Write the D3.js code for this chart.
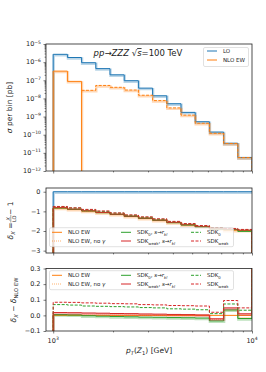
<!DOCTYPE html>
<html>
<head>
<meta charset="utf-8">
<script src="https://cdn.jsdelivr.net/npm/d3@7"></script>
<style>
body { margin: 0; background: #fff; }
svg { font-family: "DejaVu Sans", sans-serif; }
</style>
</head>
<body>
<svg id="chart" width="266" height="372"></svg>
<script>

// bin edges in pT(Z1) [GeV] (log spaced bins)
var binEdges = [1000, 1179, 1389, 1638, 1931, 2276, 2683, 3162, 3728, 4394, 5179, 6105, 7197, 8483, 10000];

// top panel: sigma per bin [pb]
var sigmaLO = [2.7e-6, 1.8e-6, 9.3e-7, 4.4e-7, 2.0e-7, 9.5e-8, 3.7e-8, 1.4e-8, 5.1e-9, 1.7e-9, 5.2e-10, 1.4e-10, 3.4e-11, 5.6e-12];
// NLO EW, positive bins (solid) and |negative| bins (dashed)
var sigmaNLOpos = [3.2e-7, 8.7e-8, null, null, null, null, null, null, null, null, null, null, null, null];
var sigmaNLOneg = [null, null, 2.8e-8, 5.2e-8, 4.1e-8, 2.9e-8, 1.5e-8, 7.6e-9, 3.0e-9, 1.2e-9, 4.3e-10, 1.2e-10, 3.3e-11, 5.5e-12];

// middle panel: delta_X = X/LO - 1
var deltaLO       = [0, 0, 0, 0, 0, 0, 0, 0, 0, 0, 0, 0, 0, 0];
var deltaNLO      = [-0.83, -0.90, -0.98, -1.06, -1.15, -1.25, -1.35, -1.45, -1.57, -1.68, -1.78, -1.87, -1.96, -1.97];
var deltaNoGamma  = [-0.83, -0.90, -0.98, -1.06, -1.15, -1.25, -1.35, -1.45, -1.57, -1.68, -1.78, -1.90, -1.93, -1.99];
var deltaSDK0r    = [-0.83, -0.90, -0.98, -1.07, -1.16, -1.26, -1.36, -1.46, -1.58, -1.70, -1.80, -1.91, -1.93, -2.02];
var deltaSDKwr    = [-0.81, -0.88, -0.97, -1.05, -1.14, -1.24, -1.34, -1.44, -1.56, -1.68, -1.78, -1.89, -1.91, -1.96];
var deltaSDK0     = [-0.76, -0.83, -0.92, -1.00, -1.09, -1.20, -1.30, -1.40, -1.53, -1.64, -1.74, -1.86, -1.89, -1.94];
var deltaSDKw     = [-0.75, -0.82, -0.90, -0.98, -1.08, -1.18, -1.28, -1.38, -1.51, -1.62, -1.72, -1.85, -1.87, -1.92];

// bottom panel: delta_X - delta_NLO EW
var diffNLO       = [0, 0, 0, 0, 0, 0, 0, 0, 0, 0, 0, 0, 0, 0];
var diffNoGamma   = [0.003, 0.003, 0.002, 0.002, 0.001, 0.001, 0.0, 0.0, -0.001, -0.002, -0.003, -0.025, 0.030, -0.015];
var diffSDK0r     = [0.005, 0.003, -0.002, -0.005, -0.007, -0.009, -0.011, -0.012, -0.014, -0.015, -0.017, -0.035, 0.035, -0.020];
var diffSDKwr     = [0.018, 0.017, 0.015, 0.014, 0.012, 0.011, 0.009, 0.008, 0.006, 0.005, 0.003, -0.022, 0.048, 0.010];
var diffSDK0      = [0.069, 0.066, 0.060, 0.058, 0.056, 0.054, 0.050, 0.048, 0.042, 0.040, 0.036, 0.011, 0.073, 0.033];
var diffSDKw      = [0.084, 0.083, 0.080, 0.078, 0.075, 0.074, 0.069, 0.067, 0.063, 0.062, 0.060, 0.020, 0.095, 0.048];

var yTicksTop = [1e-12, 1e-11, 1e-10, 1e-9, 1e-8, 1e-7, 1e-6, 1e-5];
var yTicksMid = [0, -1, -2, -3];
var yTicksBot = [0.3, 0.2, 0.1, 0.0, -0.1];
var xTicksMajor = [1000, 10000];
var xTicksMinor = [2000, 3000, 4000, 5000, 6000, 7000, 8000, 9000];

var C = {blue: "#1f77b4", orange: "#ff7f0e", green: "#2ca02c", red: "#d62728"};

var svg = d3.select("#chart");

var x = d3.scaleLog().domain([920, 10000]).range([46, 252]);
var yTop = d3.scaleLog().domain([1e-12, 1e-5]).range([171, 44]);
var yMid = d3.scaleLinear().domain([-3.12, 0.19]).range([253, 188]);
var yBot = d3.scaleLinear().domain([-0.1, 0.3]).range([331, 268.5]);

// build step points for a binned series; lead/trail give the y of the closing verticals
function stepPoints(vals, lead, trail) {
    var idx = [];
    vals.forEach(function(v, i) { if (v != null) idx.push(i); });
    var pts = [];
    if (lead != null) pts.push([binEdges[idx[0]], lead]);
    idx.forEach(function(i) {
        pts.push([binEdges[i], vals[i]]);
        pts.push([binEdges[i + 1], vals[i]]);
    });
    if (trail != null) pts.push([binEdges[idx[idx.length - 1] + 1], trail]);
    return pts;
}

// rich text helper: parts {t, sub, sup, it}
function rich(sel, parts, size) {
    var shift = 0;
    parts.forEach(function(p) {
        var target = 0;
        if (p.sub) target = size * 0.28;
        if (p.sup) target = -size * 0.42;
        var ts = sel.append("tspan").text(p.t)
            .attr("dy", target - shift)
            .attr("font-size", (p.sub || p.sup) ? size * 0.7 : size);
        if (p.it) ts.attr("font-style", "italic");
        if (p.over) ts.attr("text-decoration", "overline");
        shift = target;
    });
    return sel;
}

function panel(id, yScale, top, bottom) {
    svg.append("clipPath").attr("id", id)
        .append("rect").attr("x", 46).attr("y", top).attr("width", 206).attr("height", bottom - top);
    var g = svg.append("g");
    var plot = g.append("g").attr("clip-path", "url(#" + id + ")");
    return {g: g, plot: plot};
}

function drawStep(plot, yScale, pts, color, opts) {
    opts = opts || {};
    var line = d3.line().x(function(d) { return x(d[0]); }).y(function(d) { return yScale(d[1]); });
    if (opts.band) {
        plot.append("path").attr("d", line(pts))
            .attr("fill", "none").attr("stroke", color).attr("stroke-width", 2.4)
            .attr("stroke-opacity", 0.3)
            .attr("transform", "translate(0.5,1)");
    }
    plot.append("path").attr("d", line(pts))
        .attr("fill", "none").attr("stroke", color)
        .attr("stroke-width", opts.width || 1)
        .attr("stroke-dasharray", opts.dash || null)
        .attr("stroke-opacity", opts.opacity || 1);
}

function frameAndTicks(g, yScale, top, bottom, yMajor, yMinor) {
    var ya = g.append("g").attr("transform", "translate(46,0)")
        .call(d3.axisLeft(yScale).tickValues(yMajor).tickSize(2.5).tickFormat(""));
    if (yMinor) {
        g.append("g").attr("transform", "translate(46,0)")
            .call(d3.axisLeft(yScale).tickValues(yMinor).tickSize(1.4).tickFormat(""));
    }
    g.append("g").attr("transform", "translate(0," + bottom + ")")
        .call(d3.axisBottom(x).tickValues(xTicksMajor).tickSize(2.5).tickFormat(""));
    g.append("g").attr("transform", "translate(0," + bottom + ")")
        .call(d3.axisBottom(x).tickValues(xTicksMinor).tickSize(1.4).tickFormat(""));
    g.selectAll(".domain").remove();
    g.selectAll(".tick line").attr("stroke", "#222").attr("stroke-width", 0.6);
    g.append("rect").attr("x", 46).attr("y", top).attr("width", 206).attr("height", bottom - top)
        .attr("fill", "none").attr("stroke", "#222").attr("stroke-width", 0.8);
}

function legendBox(x0, y0, w, h) {
    svg.append("rect").attr("x", x0).attr("y", y0).attr("width", w).attr("height", h)
        .attr("rx", 1.5).attr("fill", "#fff").attr("fill-opacity", 0.8)
        .attr("stroke", "#ccc").attr("stroke-width", 0.6);
}

function legendEntry(lx, ly, color, dash, parts, opacity) {
    svg.append("line").attr("x1", lx).attr("x2", lx + 10).attr("y1", ly).attr("y2", ly)
        .attr("stroke", color).attr("stroke-width", 1)
        .attr("stroke-dasharray", dash || null)
        .attr("stroke-opacity", opacity || 1);
    var t = svg.append("text").attr("x", lx + 16).attr("y", ly + 2).attr("fill", "#222");
    rich(t, parts, 5.5);
}

// ---------------- top panel ----------------
var p1 = panel("clipTop", yTop, 44, 171);
drawStep(p1.plot, yTop, stepPoints(sigmaLO, 1e-13, 1e-13), C.blue, {band: true});
drawStep(p1.plot, yTop, stepPoints(sigmaNLOpos, 1e-13, 1e-13), C.orange, {band: true});
drawStep(p1.plot, yTop, stepPoints(sigmaNLOneg, null, 1e-13), C.orange, {band: true, dash: "3,1.4"});

var minorTop = [];
yTicksTop.slice(0, -1).forEach(function(d) {
    for (var k = 2; k <= 9; k++) minorTop.push(d * k);
});
frameAndTicks(p1.g, yTop, 44, 171, yTicksTop, minorTop);

yTicksTop.forEach(function(d) {
    var t = svg.append("text").attr("x", 41).attr("y", yTop(d) + 2.3)
        .attr("text-anchor", "end").attr("fill", "#222");
    rich(t, [{t: "10"}, {t: "\u2212" + Math.round(-Math.log10(d)), sup: true}], 6.5);
});

// title
var title = svg.append("text").attr("x", 138).attr("y", 56).attr("text-anchor", "middle").attr("fill", "#222");
rich(title, [{t: "pp", it: true}, {t: "\u2192"}, {t: "ZZZ", it: true}, {t: "  \u221A"}, {t: "s", it: true, over: true}, {t: "=100 TeV"}], 8.5);

legendBox(203.5, 47.5, 45, 19);
legendEntry(207, 51, C.blue, null, [{t: "LO"}]);
legendEntry(207, 60, C.orange, null, [{t: "NLO EW"}]);

// ---------------- middle panel ----------------
var p2 = panel("clipMid", yMid, 188, 253);
drawStep(p2.plot, yMid, stepPoints(deltaLO, -4, null), C.blue, {band: true});
drawStep(p2.plot, yMid, stepPoints(deltaNLO, -4, -4), C.orange, {band: true});
drawStep(p2.plot, yMid, stepPoints(deltaNoGamma, -4, -4), C.orange, {dash: "1,1", opacity: 0.6});
drawStep(p2.plot, yMid, stepPoints(deltaSDK0r, -4, -4), C.green);
drawStep(p2.plot, yMid, stepPoints(deltaSDKwr, -4, -4), C.red);
drawStep(p2.plot, yMid, stepPoints(deltaSDK0, -4, -4), C.green, {dash: "3,1.5"});
drawStep(p2.plot, yMid, stepPoints(deltaSDKw, -4, -4), C.red, {dash: "3,1.5"});
frameAndTicks(p2.g, yMid, 188, 253, yTicksMid, null);

yTicksMid.forEach(function(d) {
    svg.append("text").attr("x", 40.5).attr("y", yMid(d) + 2.3)
        .attr("text-anchor", "end").attr("font-size", 6.5).attr("fill", "#222")
        .text(d === 0 ? "0" : "\u2212" + (-d));
});

function legendSix(y0) {
    legendBox(49.5, y0, 184, 19);
    var r1 = y0 + 4.6, r2 = y0 + 13.3;
    legendEntry(52, r1, C.orange, null, [{t: "NLO EW"}]);
    legendEntry(52, r2, C.orange, "1,1", [{t: "NLO EW, no "}, {t: "\u03B3", it: true}], 0.6);
    legendEntry(121, r1, C.green, null, [{t: "SDK"}, {t: "0", sub: true}, {t: ", "}, {t: "s", it: true}, {t: "\u2192"}, {t: "r", it: true}, {t: "kl", sub: true, it: true}]);
    legendEntry(121, r2, C.red, null, [{t: "SDK"}, {t: "weak", sub: true}, {t: ", "}, {t: "s", it: true}, {t: "\u2192"}, {t: "r", it: true}, {t: "kl", sub: true, it: true}]);
    legendEntry(191, r1, C.green, "3,1.5", [{t: "SDK"}, {t: "0", sub: true}]);
    legendEntry(191, r2, C.red, "3,1.5", [{t: "SDK"}, {t: "weak", sub: true}]);
}
legendSix(227.7);

// ---------------- bottom panel ----------------
var p3 = panel("clipBot", yBot, 268.5, 331);
drawStep(p3.plot, yBot, stepPoints(diffNLO, -1, 1), C.orange);
drawStep(p3.plot, yBot, stepPoints(diffNoGamma, -1, 1), C.orange, {dash: "1,1", opacity: 0.6});
drawStep(p3.plot, yBot, stepPoints(diffSDK0r, -1, 1), C.green, {band: true});
drawStep(p3.plot, yBot, stepPoints(diffSDKwr, -1, 1), C.red, {band: true});
drawStep(p3.plot, yBot, stepPoints(diffSDK0, -1, 1), C.green, {dash: "3,1.5"});
drawStep(p3.plot, yBot, stepPoints(diffSDKw, -1, 1), C.red, {dash: "3,1.5"});
frameAndTicks(p3.g, yBot, 268.5, 331, yTicksBot, null);

yTicksBot.forEach(function(d) {
    svg.append("text").attr("x", 40.5).attr("y", yBot(d) + 2.3)
        .attr("text-anchor", "end").attr("font-size", 6.5).attr("fill", "#222")
        .text(d < 0 ? "\u2212" + d3.format(".1f")(-d) : d3.format(".1f")(d));
});
legendSix(270.7);

xTicksMajor.forEach(function(d) {
    var t = svg.append("text").attr("x", x(d)).attr("y", 342.5)
        .attr("text-anchor", "middle").attr("fill", "#222");
    rich(t, [{t: "10"}, {t: String(Math.round(Math.log10(d))), sup: true}], 6.5);
});

// ---------------- axis labels ----------------
var xl = svg.append("text").attr("x", 149).attr("y", 353).attr("text-anchor", "middle").attr("fill", "#222");
rich(xl, [{t: "p", it: true}, {t: "T", sub: true, it: true}, {t: "("}, {t: "Z", it: true}, {t: "1", sub: true}, {t: ") [GeV]"}], 7.5);

var yl1 = svg.append("text").attr("transform", "translate(12,107.5) rotate(-90)")
    .attr("text-anchor", "middle").attr("fill", "#222");
rich(yl1, [{t: "\u03C3", it: true}, {t: " per bin [pb]"}], 7.5);

// delta_X = X/LO - 1 with a small stacked fraction
var yl2 = svg.append("g").attr("transform", "translate(13,220.5) rotate(-90)").attr("fill", "#222");
var lhs = yl2.append("text").attr("x", 0).attr("y", 0);
rich(lhs, [{t: "\u03B4", it: true}, {t: "X", sub: true, it: true}, {t: " = "}], 7.5);
var lw = lhs.node().getComputedTextLength();
var num = yl2.append("text").attr("y", -3.3).attr("font-size", 5).attr("font-style", "italic").attr("text-anchor", "middle").text("X");
var den = yl2.append("text").attr("y", 3.2).attr("font-size", 5).attr("text-anchor", "middle").text("LO");
var fw = den.node().getComputedTextLength() + 1;
num.attr("x", lw + fw / 2);
den.attr("x", lw + fw / 2);
yl2.append("line").attr("x1", lw).attr("x2", lw + fw).attr("y1", -2.2).attr("y2", -2.2)
    .attr("stroke", "#222").attr("stroke-width", 0.4);
var rhs = yl2.append("text").attr("x", lw + fw).attr("y", 0).attr("font-size", 7.5).text(" \u2212 1");
var totalW = lw + fw + rhs.node().getComputedTextLength();
yl2.selectAll("*").attr("transform", "translate(" + (-totalW / 2) + ",0)");

var yl3 = svg.append("text").attr("transform", "translate(16,300) rotate(-90)")
    .attr("text-anchor", "middle").attr("fill", "#222");
rich(yl3, [{t: "\u03B4", it: true}, {t: "X", sub: true, it: true}, {t: " \u2212 "}, {t: "\u03B4", it: true}, {t: "NLO EW", sub: true}], 7.5);

</script>
</body>
</html>
